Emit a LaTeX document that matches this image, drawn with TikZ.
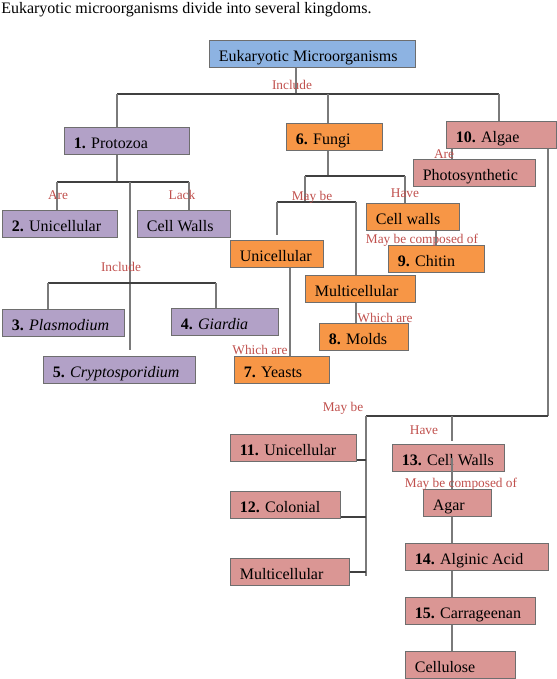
\documentclass[tikz,border=0pt]{standalone}
\usepackage{fontspec}
\setmainfont{Liberation Serif}
\definecolor{euAzul}{HTML}{8DB3E2}
\definecolor{euMorado}{HTML}{B2A1C7}
\definecolor{euNaranja}{HTML}{F79646}
\definecolor{euRosa}{HTML}{DA9694}
\definecolor{euBorde}{HTML}{6E6E6E}
\definecolor{euRojo}{HTML}{C0504D}
\definecolor{euLinea}{HTML}{7A7A7A}

\begin{document}
\begin{tikzpicture}[x=0.75pt, y=-0.75pt,
      font=\fontsize{12}{14}\selectfont,
      caja/.style 2 args={draw=euBorde, line width=0.75pt, fill=#1,
                          execute at begin node={\hbox to #2\bgroup},
                          execute at end node={\hss\egroup},
                          inner xsep=7pt, inner ysep=0pt,
                          text height=10.8pt, text depth=0.3pt,
                          minimum height=20.25pt, anchor=north west},
      lab/.style={text=euRojo, font=\fontsize{10}{12}\selectfont, inner sep=0pt},
      stem/.style={draw=euLinea, line width=1.5pt},
      bar/.style={draw=black!75, line width=0.9pt}]
    \useasboundingbox (0,0) rectangle (557,679);
    \node[anchor=north west, inner sep=0pt] (titulo) at (1,2) {Eukaryotic microorganisms divide into several kingdoms.};
    \node[caja={euAzul}{140.5pt}]     (raiz)   at (209,40)  {Eukaryotic Microorganisms};
    % protozoa
    \node[caja={euMorado}{79.75pt}]   (proto)  at (64,127)  {\textbf{1.} Protozoa};
    \node[caja={euMorado}{72.25pt}]   (uniP)   at (2,210)   {\textbf{2.} Unicellular};
    \node[caja={euMorado}{55.75pt}]   (paredP) at (137,210) {Cell Walls};
    \node[caja={euMorado}{77.5pt}]    (plas)   at (2,309)   {\textbf{3.} \textit{Plasmodium}};
    \node[caja={euMorado}{66.25pt}]   (giar)   at (171,308) {\textbf{4.} \textit{Giardia}};
    \node[caja={euMorado}{100pt}]     (crip)   at (43,356)  {\textbf{5.} \textit{Cryptosporidium}};
    % fungi
    \node[caja={euNaranja}{58pt}]     (hongo)  at (286,123) {\textbf{6.} Fungi};
    \node[caja={euNaranja}{55.75pt}]  (paredF) at (366,203) {Cell walls};
    \node[caja={euNaranja}{58pt}]     (quit)   at (388,245) {\textbf{9.} Chitin};
    \node[caja={euNaranja}{55.75pt}]  (uniF)   at (230,240) {Unicellular};
    \node[caja={euNaranja}{57.25pt}]  (lev)    at (234,356) {\textbf{7.} Yeasts};
    \node[caja={euNaranja}{68.5pt}]   (multF)  at (305,275) {Multicellular};
    \node[caja={euNaranja}{52.75pt}]  (moho)   at (319,323) {\textbf{8.} Molds};
    % algae
    \node[caja={euRosa}{68.5pt}]      (alga)   at (446,121) {\textbf{10.} Algae};
    \node[caja={euRosa}{77.5pt}]      (foto)   at (413,159) {Photosynthetic};
    \node[caja={euRosa}{80.5pt}]      (uniA)   at (230,434) {\textbf{11.} Unicellular};
    \node[caja={euRosa}{68.5pt}]      (colA)   at (230,491) {\textbf{12.} Colonial};
    \node[caja={euRosa}{75.25pt}]     (multA)  at (230,558) {Multicellular};
    \node[caja={euRosa}{70pt}]        (paredA) at (392,444) {\textbf{13.} Cell Walls};
    \node[caja={euRosa}{37pt}]        (agar)   at (423,489) {Agar};
    \node[caja={euRosa}{93.25pt}]     (algin)  at (405,543) {\textbf{14.} Alginic Acid};
    \node[caja={euRosa}{83.5pt}]      (carr)   at (405,597) {\textbf{15.} Carrageenan};
    \node[caja={euRosa}{68.5pt}]      (celu)   at (405,651) {Cellulose};
    % bus points
    \coordinate (r0) at (296,94);  \coordinate (r1) at (117,94);
    \coordinate (r2) at (328,94);  \coordinate (r3) at (499,94);
    \coordinate (p0) at (117,182); \coordinate (p1) at (57,182);
    \coordinate (p2) at (189,182); \coordinate (p3) at (130,182);
    \coordinate (p4) at (130,350);
    \coordinate (q1) at (48,283);  \coordinate (q2) at (216,283);
    \coordinate (f0) at (328,176); \coordinate (f1) at (305,176);
    \coordinate (f2) at (405,176); \coordinate (f3) at (436,230);
    \coordinate (g0) at (305,202); \coordinate (g1) at (277,202);
    \coordinate (g2) at (356,202); \coordinate (g3) at (277,235);
    \coordinate (y0) at (290,300);
    \coordinate (a0) at (452,416); \coordinate (a1) at (548,416);
    \coordinate (a2) at (366,416); \coordinate (a3) at (366,576);
    \coordinate (a5) at (452,441);
    \coordinate (t1) at (366,460); \coordinate (t2) at (366,517);
    % root
    \draw[stem] (r0 |- raiz.south) -- (r0);
    \draw[bar] (r1) -- (r3);
    \foreach \c/\n in {r1/proto,r2/hongo,r3/alga} {\draw[stem] (\c) -- (\c |- \n.north);}
    % protozoa
    \draw[stem] (p0 |- proto.south) -- (p0);
    \draw[bar] (p1) -- (p2);
    \draw[stem] (p1) -- (p1 |- uniP.north);
    \draw[stem] (p2) -- (p2 |- paredP.north);
    \draw[stem] (p3) -- (p4);
    \draw[bar] (q1) -- (q2);
    \draw[stem] (q1) -- (q1 |- plas.north);
    \draw[stem] (q2) -- (q2 |- giar.north);
    % fungi
    \draw[stem] (f0 |- hongo.south) -- (f0);
    \draw[bar] (f1) -- (f2);
    \draw[stem] (f2) -- (f2 |- paredF.north);
    \draw[stem] (f1) -- (g0);
    \draw[bar] (g1) -- (g2);
    \draw[stem] (g1) -- (g3);
    \draw[stem] (g2) -- (g2 |- multF.north);
    \draw[stem] (f3 |- paredF.south) -- (f3 |- quit.north);
    \draw[stem] (y0 |- uniF.south) -- (y0 |- lev.north);
    \draw[stem] (g2 |- multF.south) -- (g2 |- moho.north);
    % algae
    \draw[stem] (a0 |- alga.south) -- (a0 |- foto.north);
    \draw[stem] (a1 |- alga.south) -- (a1);
    \draw[bar] (a1) -- (a2);
    \draw[stem] (a2) -- (a3);
    \draw[bar] (t1 -| uniA.east) -- (t1);
    \draw[bar] (t2 -| colA.east) -- (t2);
    \draw[bar] (multA.east) -- (a3 |- multA.east);
    \draw[stem] (a0) -- (a5);
    \draw[stem] (a0 |- paredA.center) -- (a0 |- agar.north);
    \foreach \s/\t in {agar/algin,algin/carr,carr/celu} {\draw[stem] (a0 |- \s.south) -- (a0 |- \t.north);}
    % labels
    \node[lab] (lInc)   at (292,85)  {Include};
    \node[lab] (lAre)   at (58,195)  {Are};
    \node[lab] (lLack)  at (182,195) {Lack};
    \node[lab] (lInc2)  at (121,267) {Include};
    \node[lab] (lMay)   at (312,197) {May be};
    \node[lab] (lHave)  at (405,193) {Have};
    \node[lab] (lComp)  at (422,240) {May be composed of};
    \node[lab] (lWh1)   at (260,350) {Which are};
    \node[lab] (lWh2)   at (385,318) {Which are};
    \node[lab] (lAre2)  at (444,154) {Are};
    \node[lab] (lMay2)  at (343,408) {May be};
    \node[lab] (lHave2) at (424,430) {Have};
    \node[lab] (lComp2) at (461,484) {May be composed of};
\end{tikzpicture}
\end{document}
